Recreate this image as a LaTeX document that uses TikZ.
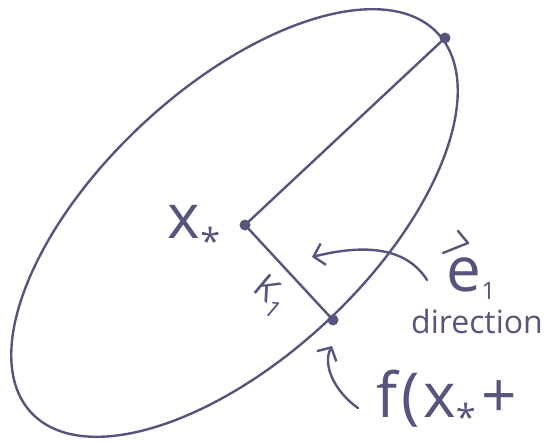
\documentclass[tikz,border=0pt]{standalone}
\usepackage{fontspec}
\setmainfont{Open Sans}
\usetikzlibrary{arrows.meta}
\definecolor{ink}{RGB}{85,85,125}
\begin{document}
\begin{tikzpicture}[x=1pt,y=-1pt,
  inkline/.style={draw=ink,line width=2.4pt,line cap=round,line join=round},
  dot/.style={circle,fill=ink,inner sep=0pt,minimum size=11pt},
  lab/.style={text=ink,inner sep=0pt},
  pointer/.style={inkline,-{Straight Barb[length=10pt,width=22pt,line width=2.4pt]}}]
\useasboundingbox (0,0) rectangle (545,441);
\draw[inkline,rotate around={43:(234.5,223)}] (234.5,223) ellipse [x radius=278, y radius=135];
\node[dot] (top) at (445,38) {};
\node[dot] (xs) at (245,225) {};
\node[dot] (pt) at (333,320) {};
\draw[inkline] (xs.center) -- (top.center);
\draw[inkline] (xs.center) -- (pt.center);
\node[lab,font=\fontsize{62}{62}\selectfont] (xlabel) at (194,230)
  {x\raisebox{-16pt}{\fontsize{36}{36}\selectfont *}};
\node[lab,font=\fontsize{34}{34}\selectfont,rotate=-40] (klabel) at (270,296)
  {K\hspace{1pt}\raisebox{-9pt}{\fontsize{24}{24}\selectfont 1}};
\node[lab,font=\fontsize{62}{62}\selectfont] (elabel) at (471,279)
  {e\raisebox{-8pt}{\fontsize{24}{24}\selectfont 1}};
\coordinate (harpA) at (443,253);
\coordinate (harpB) at (468,243);
\coordinate (harpC) at (458,231);
\draw[inkline] (harpA) -- (harpB) -- (harpC);
\node[lab,font=\fontsize{32}{32}\selectfont] (dirlabel) at (477,321) {direction};
\node[lab,font=\fontsize{62}{62}\selectfont] (flabel) at (447,400)
  {f\hspace{4pt}(\hspace{3pt}x\raisebox{-13pt}{\fontsize{36}{36}\selectfont *}\hspace{6pt}+};
\coordinate (estart) at (427,280);
\coordinate (etip) at (312,257);
\draw[pointer] (estart) .. controls (405,245) and (360,245) .. (etip);
\coordinate (fstart) at (358,408);
\coordinate (ftip) at (332,346);
\draw[pointer] (fstart) .. controls (335,392) and (322,365) .. (ftip);
\end{tikzpicture}
\end{document}
